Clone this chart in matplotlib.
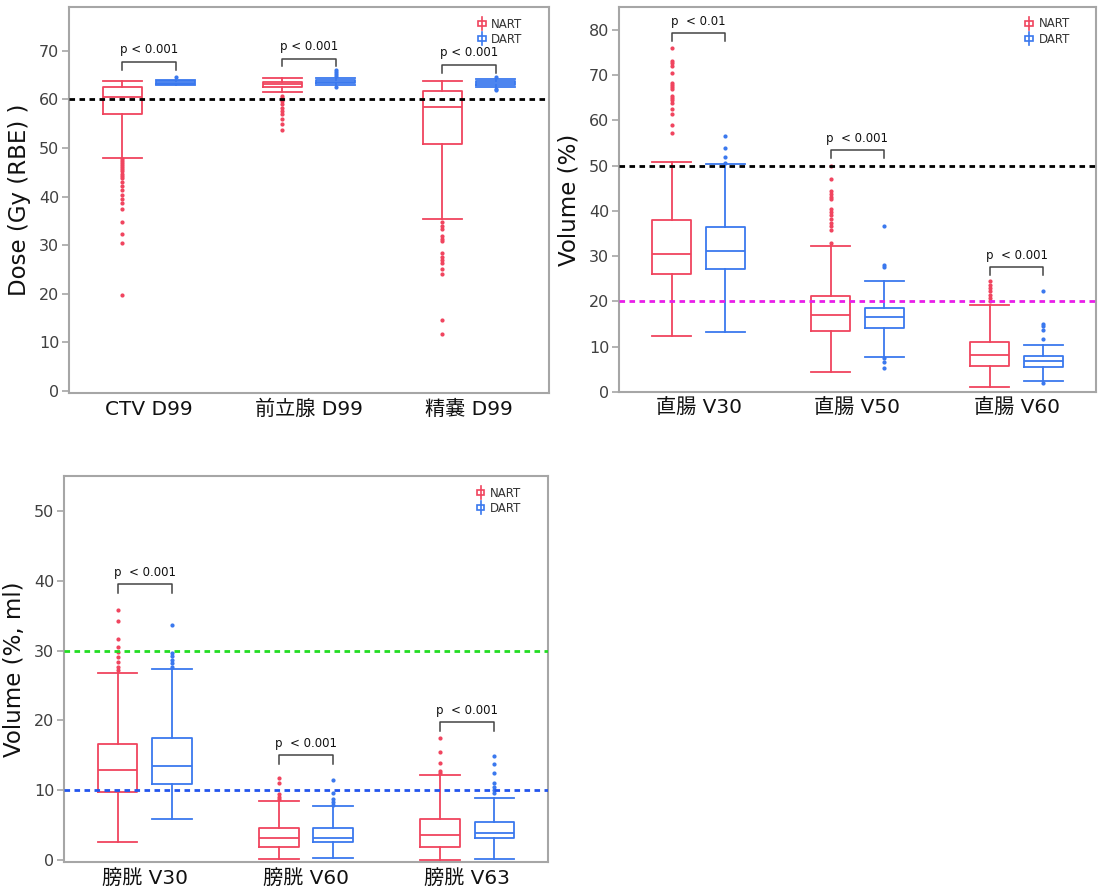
import matplotlib
matplotlib.use("Agg")
import matplotlib.pyplot as plt
import numpy as np
from matplotlib.legend_handler import HandlerBase
from matplotlib.patches import Rectangle, Patch
from matplotlib.lines import Line2D

plt.rcParams['font.family'] = ['DejaVu Sans', 'Noto Sans CJK JP']

# ---------------- data ----------------
groups = ['NART', 'DART']

# Panel 1: dose
cats1 = ['CTV D99', '前立腺 D99', '精嚢 D99']
nart1_low = [48.0, 61.6, 35.3]
nart1_q1 = [56.9, 62.6, 50.9]
nart1_med = [60.5, 63.1, 58.4]
nart1_q3 = [62.6, 63.6, 61.8]
nart1_high = [63.8, 64.4, 63.8]
nart1_fliers = [
    [47.7, 47.3, 46.9, 46.5, 46.0, 45.6, 45.2, 44.7, 44.2, 43.8, 43.0, 42.2, 41.3, 40.4, 39.6, 38.7, 37.4,
     34.7, 32.3, 30.5, 19.8],
    [60.7, 60.2, 59.6, 59.0, 58.3, 57.6, 56.9, 55.9, 54.9, 53.8],
    [34.7, 34.0, 33.3, 31.9, 31.2, 30.9, 28.5, 27.6, 27.0, 26.4, 25.1, 24.0, 14.7, 11.7],
]
dart1_low = [62.9, 62.9, 62.6]
dart1_q1 = [63.1, 63.3, 63.0]
dart1_med = [63.4, 63.6, 63.4]
dart1_q3 = [63.8, 63.9, 63.8]
dart1_high = [64.0, 64.4, 64.1]
dart1_fliers = [[64.6], [66.0, 65.6, 65.2, 64.8, 62.5], [64.6, 62.2, 62.0]]
ptext1 = ['p < 0.001', 'p < 0.001', 'p < 0.001']
pbar1 = [67.7, 68.4, 67.1]

# Panel 2: rectum
cats2 = ['直腸 V30', '直腸 V50', '直腸 V60']
nart2_low = [12.3, 4.4, 1.1]
nart2_q1 = [26.0, 13.5, 5.8]
nart2_med = [30.4, 17.0, 8.1]
nart2_q3 = [38.0, 21.2, 11.1]
nart2_high = [50.7, 32.3, 19.1]
nart2_fliers = [
    [57.2, 58.9, 61.3, 62.4, 63.9, 64.4, 64.9, 65.4, 66.8, 67.3, 67.8, 68.3, 70.4, 72.0, 72.6, 73.1, 75.9],
    [32.9, 35.8, 36.6, 37.4, 38.2, 39.0, 39.7, 40.3, 42.5, 43.0, 43.7, 44.3, 47.1, 49.9],
    [20.0, 20.7, 21.4, 22.2, 22.9, 23.6, 24.4],
]
dart2_low = [13.3, 7.8, 2.4]
dart2_q1 = [27.2, 14.2, 5.5]
dart2_med = [31.2, 16.5, 6.9]
dart2_q3 = [36.4, 18.6, 7.9]
dart2_high = [50.4, 24.6, 10.3]
dart2_fliers = [[50.6, 51.9, 53.9, 56.6], [36.6, 28.1, 27.7, 7.4, 6.6, 5.2], [22.3, 15.1, 14.5, 13.7, 11.6, 2.0]]
ptext2 = ['p  < 0.01', 'p  < 0.001', 'p  < 0.001']
pbar2 = [79.2, 53.4, 27.5]

# Panel 3: bladder
cats3 = ['膀胱 V30', '膀胱 V60', '膀胱 V63']
nart3_low = [2.6, 0.1, 0.0]
nart3_q1 = [9.8, 1.8, 1.8]
nart3_med = [12.9, 3.1, 3.5]
nart3_q3 = [16.6, 4.6, 5.9]
nart3_high = [26.8, 8.5, 12.1]
nart3_fliers = [[35.8, 34.2, 31.7, 30.5, 29.8, 29.0, 28.3, 27.6, 27.2],
                [11.7, 11.0, 9.4, 9.0, 8.7],
                [17.4, 15.4, 13.9, 12.8, 12.5]]
dart3_low = [5.8, 0.3, 0.1]
dart3_q1 = [10.9, 2.5, 3.1]
dart3_med = [13.5, 3.2, 3.9]
dart3_q3 = [17.4, 4.6, 5.5]
dart3_high = [27.3, 7.7, 8.9]
dart3_fliers = [[33.7, 29.7, 29.2, 28.7, 28.2, 27.7],
                [11.4, 9.6, 8.7, 8.3, 7.9],
                [14.9, 13.8, 12.5, 11.0, 10.5, 10.0, 9.6]]
ptext3 = ['p  < 0.001', 'p  < 0.001', 'p  < 0.001']
pbar3 = [39.5, 15.0, 19.7]

# ---------------- styling ----------------
RED = '#f0445e'
BLUE = '#3a78ee'
SPINE = '#a6a6a6'
TICKC = '#404040'


def stats(low, q1, med, q3, high, fliers):
    out = []
    for i in range(len(med)):
        out.append(dict(whislo=low[i], q1=q1[i], med=med[i], q3=q3[i], whishi=high[i],
                        fliers=fliers[i]))
    return out


class BoxHandler(HandlerBase):
    def create_artists(self, legend, orig_handle, xdescent, ydescent, width, height, fontsize, trans):
        c = orig_handle.get_edgecolor()
        cx = width / 2 - xdescent
        w = width * 0.8
        h = height * 0.55
        r = Rectangle((cx - w / 2, -ydescent + height / 2 - h / 2), w, h, fill=False, edgecolor=c,
                      lw=1.2, transform=trans)
        l = Line2D([cx, cx], [-ydescent - height * 0.15, -ydescent + height * 1.15], color=c, lw=1.2,
                   transform=trans)
        return [r, l]


def panel(ax, cats, nart, dart, ylim, ticks, ylabel, ptexts, pbars, drop, refs, legend_anchor):
    x = np.arange(len(cats))
    off = 0.168
    w = 0.245
    for st, pos, col in [(nart, x - off, RED), (dart, x + off, BLUE)]:
        ax.bxp(st, positions=pos, widths=w, showfliers=True, manage_ticks=False,
               boxprops=dict(color=col, lw=1.3),
               medianprops=dict(color=col, lw=1.3),
               whiskerprops=dict(color=col, lw=1.3),
               capprops=dict(color=col, lw=1.3),
               capwidths=w,
               flierprops=dict(marker='o', markersize=2.0, markerfacecolor=col,
                               markeredgecolor=col, linestyle='none'),
               zorder=3)
    for yv, col in refs:
        ax.axhline(yv, color=col, lw=2, linestyle=(0, (2.0, 1.6)), zorder=4)
    for i in range(len(cats)):
        x0, x1 = x[i] - off, x[i] + off
        yb = pbars[i]
        ax.plot([x0, x0, x1, x1], [yb - drop, yb, yb, yb - drop], color='#444444', lw=1.1,
                zorder=5)
        ax.annotate(ptexts[i], xy=((x0 + x1) / 2, yb), xytext=(0, 4), textcoords='offset points',
                    ha='center', va='bottom', fontsize=8.5, color='#111111')
    ax.set_xlim(-0.5, len(cats) - 0.5)
    ax.set_ylim(*ylim)
    ax.set_xticks(x)
    ax.set_xticklabels(cats, fontsize=14.5, color='#111111')
    ax.tick_params(axis='x', length=0, pad=5)
    ax.set_yticks(ticks)
    ax.tick_params(axis='y', labelsize=11.5, labelcolor=TICKC, color=SPINE, length=5, width=1.2,
                   pad=2)
    ax.set_ylabel(ylabel, fontsize=16.5, color='#111111', labelpad=6)
    for s in ax.spines.values():
        s.set_color(SPINE)
        s.set_linewidth(1.5)
    handles = [Patch(edgecolor=RED, facecolor='none'), Patch(edgecolor=BLUE, facecolor='none')]
    leg = ax.legend(handles, groups, handler_map={Patch: BoxHandler()}, loc='upper right',
                    bbox_to_anchor=legend_anchor, frameon=False, fontsize=8.5,
                    handlelength=0.8, handleheight=0.9, handletextpad=0.4, labelspacing=0.2,
                    borderaxespad=0.0)
    for t in leg.get_texts():
        t.set_color('#333333')


fig = plt.figure(figsize=(10.98, 8.94), dpi=100)
ax1 = fig.add_axes([69 / 1098, 1 - 393 / 894, 480 / 1098, 386 / 894])
ax2 = fig.add_axes([619 / 1098, 1 - 392 / 894, 477 / 1098, 385 / 894])
ax3 = fig.add_axes([64 / 1098, 1 - 862 / 894, 484 / 1098, 386 / 894])

panel(ax1, cats1,
      stats(nart1_low, nart1_q1, nart1_med, nart1_q3, nart1_high, nart1_fliers),
      stats(dart1_low, dart1_q1, dart1_med, dart1_q3, dart1_high, dart1_fliers),
      (-0.4, 79), np.arange(0, 71, 10), 'Dose (Gy (RBE) )', ptext1, pbar1, 1.6,
      [(60, 'black')], (0.955, 0.985))
panel(ax2, cats2,
      stats(nart2_low, nart2_q1, nart2_med, nart2_q3, nart2_high, nart2_fliers),
      stats(dart2_low, dart2_q1, dart2_med, dart2_q3, dart2_high, dart2_fliers),
      (0, 85), np.arange(0, 81, 10), 'Volume (%)', ptext2, pbar2, 1.7,
      [(50, 'black'), (20, '#e81ee8')], (0.955, 0.985))
panel(ax3, cats3,
      stats(nart3_low, nart3_q1, nart3_med, nart3_q3, nart3_high, nart3_fliers),
      stats(dart3_low, dart3_q1, dart3_med, dart3_q3, dart3_high, dart3_fliers),
      (-0.3, 55), np.arange(0, 51, 10), 'Volume (%, ml)', ptext3, pbar3, 1.2,
      [(30, '#22dd22'), (10, '#2255ee')], (0.955, 0.985))

fig.savefig('out.png', dpi=100, facecolor='white')
